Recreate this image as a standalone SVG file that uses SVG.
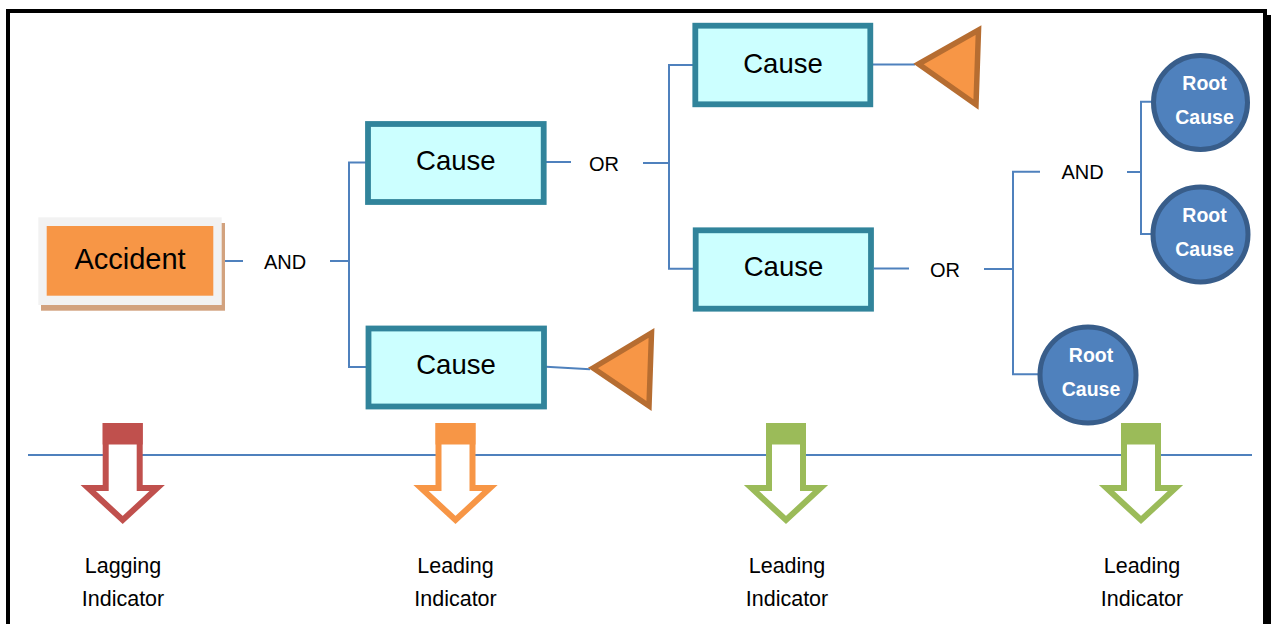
<svg xmlns="http://www.w3.org/2000/svg" width="1271" height="624" viewBox="0 0 1271 624">
<style>
.conn{fill:none;stroke:#4F81BD;stroke-width:2}
.cause rect{fill:#CCFFFF;stroke:#31849B;stroke-width:5.8}
.cause text{font-family:"Liberation Sans",Arial,sans-serif;font-size:27.5px;fill:#000;text-anchor:middle}
.lbl{font-family:"Liberation Sans",Arial,sans-serif;font-size:20px;fill:#000;text-anchor:middle}
.root circle{fill:#4F81BD;stroke:#385D8A;stroke-width:5}
.root text{font-family:"Liberation Sans",Arial,sans-serif;font-size:19.5px;font-weight:bold;fill:#fff;text-anchor:middle}
.tri{fill:#F79646;stroke:#B66D31;stroke-width:5.5;stroke-linejoin:miter}
.ind text{font-family:"Liberation Sans",Arial,sans-serif;font-size:21.5px;fill:#000;text-anchor:middle}
.ind polygon{fill:#fff;stroke-width:6;stroke-linejoin:miter}
</style>
<rect x="0" y="0" width="1271" height="624" fill="#fff"/>
<g id="frame">
<rect x="8" y="11" width="1257" height="700" fill="none" stroke="#000" stroke-width="4"/>
<rect x="1267" y="15" width="4" height="609" fill="#000"/>
</g>
<g id="connectors">
<path class="conn" d="M220 261H243"/>
<path class="conn" d="M330 261H349"/>
<path class="conn" d="M366 162.5H349V367H366"/>
<path class="conn" d="M546 162H571"/>
<path class="conn" d="M643 163H669"/>
<path class="conn" d="M693 65H669V268.7H693"/>
<path class="conn" d="M871 64.5H915"/>
<path class="conn" d="M874 268.5H909"/>
<path class="conn" d="M984 269H1013"/>
<path class="conn" d="M1040 171.7H1013V374.3H1040"/>
<path class="conn" d="M1127 172H1141"/>
<path class="conn" d="M1152 101.7H1141V234H1152"/>
<path class="conn" d="M546 366.7L590 369.3"/>
<path class="conn" d="M28 455H1252"/>
</g>
<g id="labels">
<text class="lbl" x="285" y="269">AND</text>
<text class="lbl" x="604" y="170.5">OR</text>
<text class="lbl" x="945" y="276.5">OR</text>
<text class="lbl" x="1082.5" y="179">AND</text>
</g>
<g id="accident">
<rect x="41" y="223" width="184" height="87.7" fill="#D2A27E"/>
<rect x="38.3" y="217.3" width="183.4" height="87.7" fill="#F2F2F2"/>
<rect x="46.7" y="226" width="166.6" height="69.7" fill="#F79646"/>
<text x="130" y="269" font-family="'Liberation Sans',Arial,sans-serif" font-size="29" text-anchor="middle" fill="#000">Accident</text>
</g>
<g id="cause1" class="cause">
<rect x="368" y="124" width="175.7" height="78"/>
<text x="455.8" y="170">Cause</text>
</g>
<g id="cause2" class="cause">
<rect x="695.3" y="25.7" width="175" height="78.6"/>
<text x="783" y="73">Cause</text>
</g>
<g id="cause3" class="cause">
<rect x="695.7" y="230.3" width="175.3" height="78.4"/>
<text x="783.5" y="276">Cause</text>
</g>
<g id="cause4" class="cause">
<rect x="368.5" y="328.5" width="175.5" height="78"/>
<text x="456" y="374">Cause</text>
</g>
<g id="triangle1">
<polygon class="tri" points="918.5,64 978.5,30 976,104.5"/>
</g>
<g id="triangle2">
<polygon class="tri" points="593,368 651.5,333 649,406"/>
</g>
<g id="root1" class="root">
<circle cx="1200.5" cy="102.5" r="47"/>
<text x="1204.5" y="90">Root</text>
<text x="1204.5" y="123.5">Cause</text>
</g>
<g id="root2" class="root">
<circle cx="1200.5" cy="234.5" r="47.5"/>
<text x="1204.5" y="222">Root</text>
<text x="1204.5" y="255.5">Cause</text>
</g>
<g id="root3" class="root">
<circle cx="1088" cy="375" r="48"/>
<text x="1091" y="362">Root</text>
<text x="1091" y="395.5">Cause</text>
</g>
<g id="ind1" class="ind">
<polygon stroke="#C0504D" points="105.7,426 139.7,426 139.7,488 157.2,488 122.7,520 88.2,488 105.7,488"/>
<rect x="102.7" y="423" width="40" height="21.5" fill="#C0504D"/>
<text x="123" y="573">Lagging</text>
<text x="123" y="606">Indicator</text>
</g>
<g id="ind2" class="ind">
<polygon stroke="#F79646" points="438.5,426 472.5,426 472.5,488 490,488 455.5,520 421,488 438.5,488"/>
<rect x="435.5" y="423" width="40" height="21.5" fill="#F79646"/>
<text x="455.5" y="573">Leading</text>
<text x="455.5" y="606">Indicator</text>
</g>
<g id="ind3" class="ind">
<polygon stroke="#9BBB59" points="769,426 803,426 803,488 820.5,488 786,520 751.5,488 769,488"/>
<rect x="766" y="423" width="40" height="21.5" fill="#9BBB59"/>
<text x="787" y="573">Leading</text>
<text x="787" y="606">Indicator</text>
</g>
<g id="ind4" class="ind">
<polygon stroke="#9BBB59" points="1124,426 1158,426 1158,488 1175.5,488 1141,520 1106.5,488 1124,488"/>
<rect x="1121" y="423" width="40" height="21.5" fill="#9BBB59"/>
<text x="1142" y="573">Leading</text>
<text x="1142" y="606">Indicator</text>
</g>
</svg>
